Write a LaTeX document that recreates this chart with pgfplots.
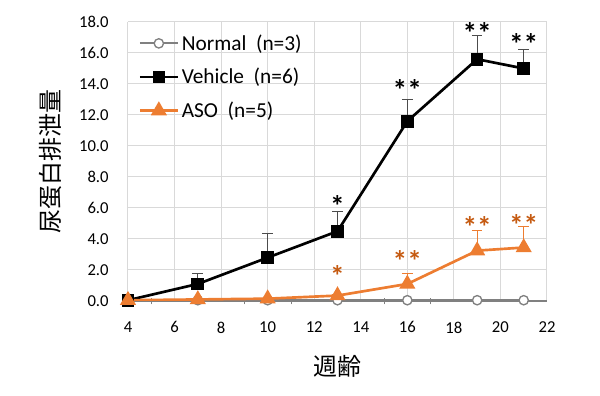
\documentclass[border=0pt]{standalone}
\usepackage{fontspec}
\setmainfont{Carlito}
\newfontfamily\cjk{Noto Sans CJK JP}
\usepackage{pgfplots}
\pgfplotsset{compat=1.18}
\definecolor{aso}{HTML}{ED7D31}
\definecolor{asostar}{HTML}{C55A11}
\definecolor{gridc}{HTML}{D9D9D9}
\definecolor{normc}{HTML}{808080}
\begin{document}
\begin{tikzpicture}
\path[use as bounding box] (-96pt,-71.25pt) rectangle (354pt,225.75pt);
\begin{axis}[
  at={(0,0)}, anchor=south west, scale only axis,
  width=314.25pt, height=209.25pt,
  xmin=4, xmax=22, ymin=0, ymax=18,
  xtick={4,6,...,22}, ytick={0,2,...,18},
  minor xtick={5,7,...,21},
  grid=major, major grid style={gridc, line width=0.75pt},
  axis x line*=bottom, axis y line*=left,
  x axis line style={draw=normc, line width=1pt, -},
  y axis line style={draw=gridc, line width=0.75pt, -},
  major tick length=0pt, minor tick length=5pt,
  xtick align=center,
  minor tick style={normc, line width=0.6pt},
  /pgf/number format/assume math mode=true,
  tick label style={font=\fontsize{12.5}{14}\selectfont},
  yticklabel style={/pgf/number format/fixed, /pgf/number format/fixed zerofill, /pgf/number format/precision=1, xshift=-11pt},
  xticklabel style={yshift=-12pt},
  xlabel={\cjk 週齢},
  ylabel={\cjk 尿蛋白排泄量},
  label style={font=\fontsize{18}{20}\selectfont},
  xlabel style={at={(axis description cs:0.5,-0.235)}, anchor=center},
  ylabel style={at={(axis description cs:-0.186,0.5)}, anchor=center},
  legend style={draw=none, fill=none, at={(0.015,0.975)}, anchor=north west,
    font=\fontsize{16}{19}\selectfont, row sep=8pt},
  legend cell align=left,
  legend image code/.code={\draw[mark repeat=2,mark phase=2,#1] plot coordinates {(0cm,0cm) (0.5cm,0cm) (1cm,0cm)};},
]
\addplot[normc, line width=1.5pt, mark=*, mark size=3.5pt, mark options={fill=white, draw=normc, line width=1pt}]
  coordinates {(4,0.05) (7,0.05) (10,0.05) (13,0.05) (16,0.05) (19,0.05) (21,0.05)};
\addlegendentry{Normal\ \ (n=3)}
\addplot[black, line width=2pt, mark=square*, mark size=3.75pt,
  error bars/.cd, y dir=plus, y explicit,
  error bar style={line width=0.75pt, color=black!70},
  error mark options={line width=0.75pt, mark size=4pt, black!70, rotate=90}]
  coordinates {(4,0.05) +- (0,0) (7,1.1) +- (0,0.7) (10,2.8) +- (0,1.55) (13,4.5) +- (0,1.25)
   (16,11.6) +- (0,1.4) (19,15.6) +- (0,1.5) (21,15.0) +- (0,1.25)};
\addlegendentry{Vehicle\ \ (n=6)}
\addplot[aso, line width=2pt, mark=triangle*, mark size=5pt,
  error bars/.cd, y dir=plus, y explicit,
  error bar style={line width=0.75pt, color=aso},
  error mark options={line width=0.75pt, mark size=4pt, aso, rotate=90}]
  coordinates {(4,0.05) +- (0,0) (7,0.1) +- (0,0) (10,0.15) +- (0,0) (13,0.35) +- (0,0.1)
   (16,1.1) +- (0,0.65) (19,3.25) +- (0,1.3) (21,3.45) +- (0,1.35)};
\addlegendentry{ASO\ \ (n=5)}
\tikzset{star/.style={font=\fontsize{22}{22}\selectfont\bfseries, inner sep=0pt}}
\node[star] at (axis cs:13,6.1) {*};
\node[star] at (axis cs:16,13.6) {**};
\node[star] at (axis cs:19,17.3) {**};
\node[star] at (axis cs:21,16.6) {**};
\node[star, text=asostar] at (axis cs:13,1.6) {*};
\node[star, text=asostar] at (axis cs:16,2.6) {**};
\node[star, text=asostar] at (axis cs:19,4.8) {**};
\node[star, text=asostar] at (axis cs:21,4.9) {**};
\end{axis}
\end{tikzpicture}
\end{document}
